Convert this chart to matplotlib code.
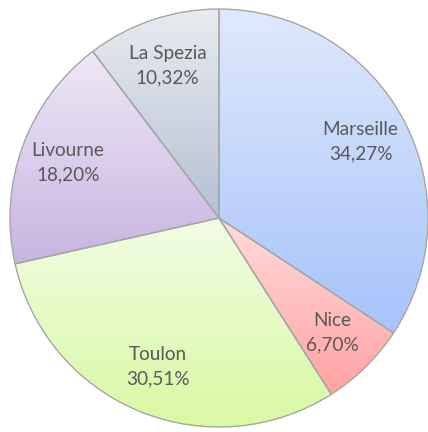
import matplotlib
matplotlib.use("Agg")
import matplotlib.pyplot as plt
import numpy as np
from matplotlib.colors import LinearSegmentedColormap

# data
ports = ["Marseille", "Nice", "Toulon", "Livourne", "La Spezia"]
shares = [34.27, 6.70, 30.51, 18.20, 10.32]
pct_labels = ["34,27%", "6,70%", "30,51%", "18,20%", "10,32%"]

# light top -> darker bottom, per slice
grad_top = ["#dfe9fc", "#ffdcdc", "#f2fce4", "#efe8f6", "#e8ebf0"]
grad_bottom = ["#a6c3fb", "#ffa2a2", "#d8f9a3", "#c8b4e1", "#b6c0d3"]

plt.rcParams["font.family"] = ["Lato", "DejaVu Sans"]

W, H = 428, 432
fig = plt.figure(figsize=(W / 100, H / 100), dpi=100)
cx, cy, r = 219, 218, 209
ax = fig.add_axes([(cx - r) / W, (H - cy - r) / H, 2 * r / W, 2 * r / H])

texts = [f"{p}\n{v}" for p, v in zip(ports, pct_labels)]
wedges, labels = ax.pie(shares, startangle=90, counterclock=False,
                        labels=texts, labeldistance=0.77,
                        wedgeprops=dict(facecolor="none", edgecolor="#a6a6a6", linewidth=1.0),
                        textprops=dict(color="#595959", fontsize=13.7, ha="center", va="center",
                                       linespacing=1.55))

for w, c0, c1 in zip(wedges, grad_top, grad_bottom):
    bb = w.get_path().get_extents()
    cmap = LinearSegmentedColormap.from_list("g", [c0, c1])
    grad = np.linspace(0, 1, 256).reshape(-1, 1)
    im = ax.imshow(grad, cmap=cmap, aspect="auto",
                   extent=[bb.x0, bb.x1, bb.y0, bb.y1], origin="upper", zorder=0.5,
                   interpolation="bilinear")
    im.set_clip_path(w)
    w.set_zorder(1)

for t in labels:
    t.set_zorder(3)
    t.set_horizontalalignment("center")

ax.set_xlim(-1, 1)
ax.set_ylim(-1, 1)
ax.set_aspect("auto")
ax.axis("off")

fig.savefig("out.png", dpi=100)
